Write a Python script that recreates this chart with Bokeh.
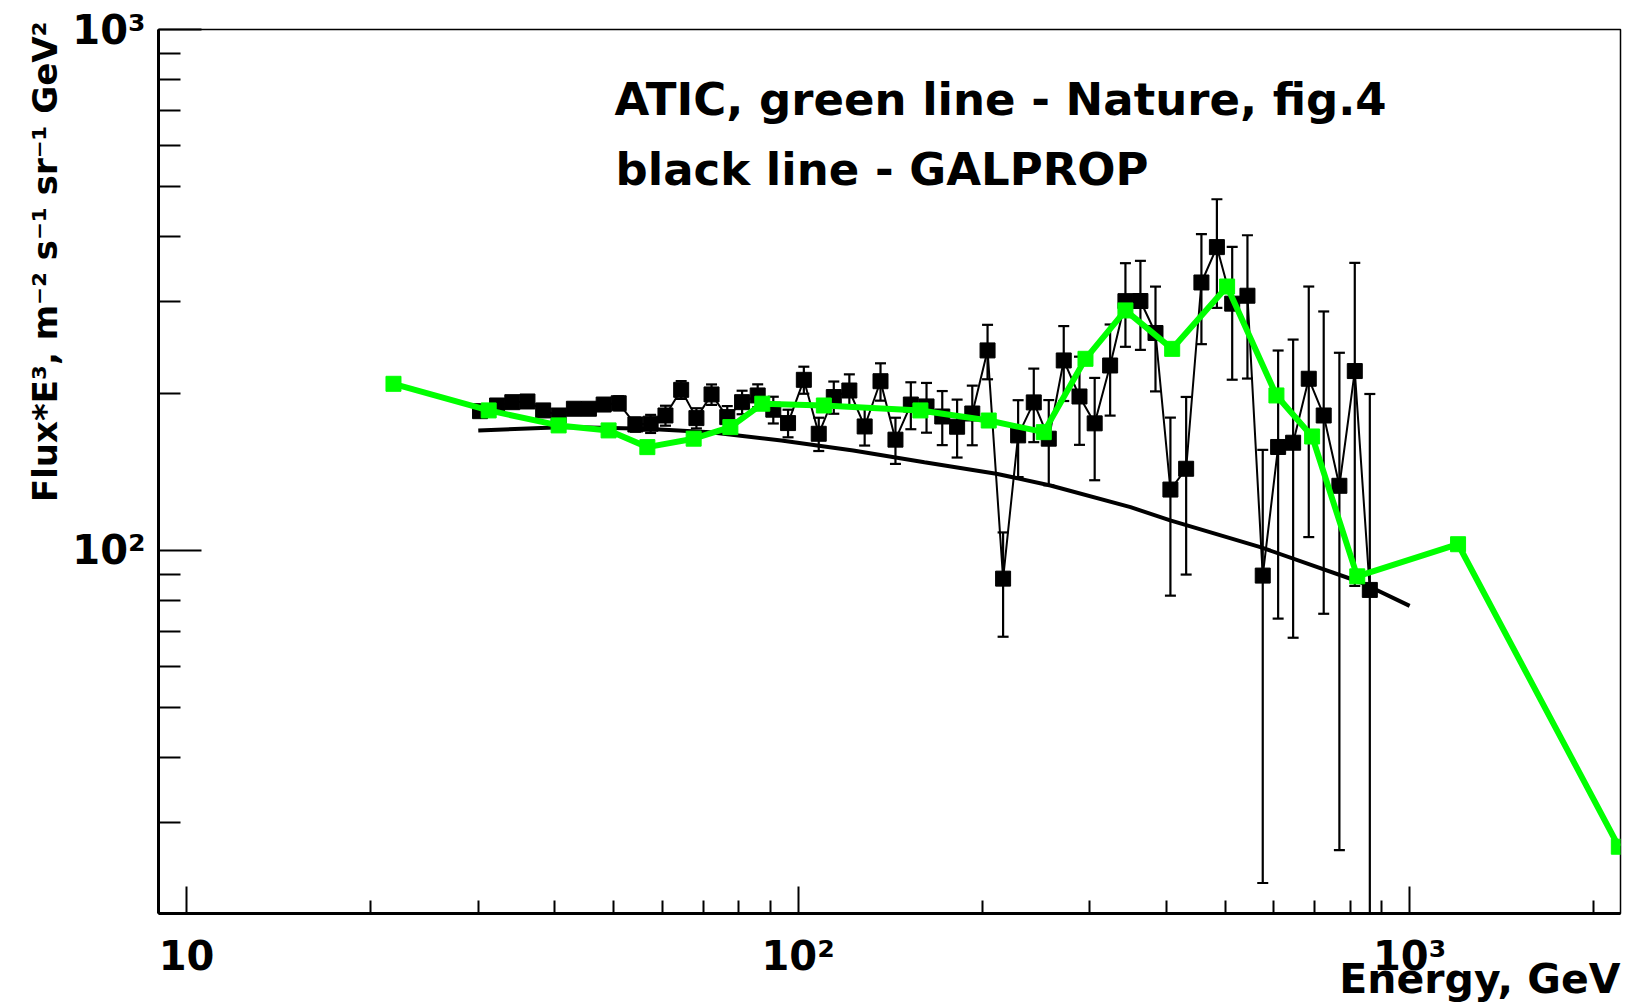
import numpy as np
from bokeh.plotting import figure
from bokeh.models import Label, Title, FixedTicker, CustomJSTickFormatter
from bokeh.embed import file_html
from bokeh.resources import INLINE

# ATIC electron spectrum, Flux*E^3 (black squares with error bars)
atic_energy = [30.2, 32.2, 34.1, 36.1, 38.3, 40.6, 43.0, 45.5, 48.1, 50.9,
               54.2, 57.4, 60.7, 64.4, 68.2, 72.2, 76.6, 81.0, 85.9, 91.1,
               96.3, 102.2, 108.1, 114.4, 121.3, 128.5, 136.4, 144.3, 152.9, 162.2,
               172.1, 182.0, 192.7, 204.1, 216.4, 229.0, 242.9, 257.0, 271.9, 288.5,
               305.5, 323.8, 343.0, 362.9, 384.1, 406.3, 431.1, 456.6, 484.0, 512.7,
               543.0, 575.2, 609.5, 644.9, 684.0, 723.6, 767.6, 813.4, 860.8]
atic_flux = [185.1, 189.8, 192.6, 193.2, 185.7, 181.6, 187.1, 187.1, 190.6, 191.7,
             174.5, 175.1, 181.6, 203.4, 179.5, 199.3, 180.3, 192.6, 198.4, 186.3,
             175.6, 212.6, 167.5, 197.0, 202.8, 173.0, 211.3, 163.2, 190.6, 189.0,
             180.8, 172.8, 183.2, 242.1, 88.3, 166.3, 192.4, 163.9, 231.6, 197.5,
             175.4, 226.5, 301.0, 301.2, 261.5, 130.9, 143.5, 326.9, 382.2, 297.7,
             308.3, 89.5, 158.0, 161.0, 213.6, 181.6, 133.1, 221.0, 84.0]
atic_err = [3.0, 3.0, 3.5, 3.5, 4.0, 4.0, 4.5, 4.5, 5.0, 6.0,
            5.5, 7.0, 8.0, 8.0, 8.0, 9.0, 9.0, 10.0, 10.0, 11.0,
            10.7, 12.7, 12.3, 14.0, 15.0, 14.0, 17.4, 16.6, 19.7, 20.7,
            21.5, 22.0, 24.0, 29.0, 20.0, 28.0, 31.0, 30.5, 38.0, 38.0,
            39.0, 45.0, 55.0, 58.5, 59.5, 49.0, 53.6, 78.0, 90.0, 85.0,
            94.5, 66.5, 84.0, 93.0, 107.5, 106.0, 106.5, 135.5, 115.7]

# Nature, fig.4 curve (green)
nature_energy = [21.8, 31.2, 40.6, 49.0, 56.7, 67.5, 77.5, 87.4, 110.2, 158.5,
                 205.0, 252.2, 295.1, 343.0, 409.0, 503.0, 605.6, 692.7, 821.0,
                 1200.0, 2198.0]
nature_flux = [208.9, 185.7, 173.8, 170.0, 157.9, 163.9, 172.5, 191.3, 189.8, 185.7,
               177.6, 168.7, 233.3, 288.9, 243.8, 321.1, 198.4, 165.5, 89.2,
               102.8, 27.0]

# GALPROP model (black line)
galprop_energy = [30.0, 42.0, 56.4, 71.9, 93.9, 123.1, 160.9, 210.9, 258.6,
                  349.6, 406.0, 570.0, 831.0, 1000.0]
galprop_flux = [170.0, 172.5, 171.2, 168.7, 162.6, 155.6, 147.7, 140.4, 133.3,
                121.1, 114.2, 101.5, 86.9, 78.3]

# axis ticks
x_major = [10, 100, 1000]
x_minor = [20, 30, 40, 50, 60, 70, 80, 90, 200, 300, 400, 500, 600, 700, 800, 900, 2000]
y_major = [100, 1000]
y_minor = [30, 40, 50, 60, 70, 80, 90, 200, 300, 400, 500, 600, 700, 800, 900]

X_MIN, X_MAX = 9.0, 2212.0
Y_MIN, Y_MAX = 20.1, 1000.0

FONT = "DejaVu Sans"

p = figure(width=1627, height=1006,
           x_axis_type="log", y_axis_type="log",
           x_range=(X_MIN, X_MAX), y_range=(Y_MIN, Y_MAX),
           output_backend="svg", toolbar_location=None,
           min_border_left=158, min_border_right=7,
           min_border_top=29, min_border_bottom=93)

p.background_fill_color = "white"
p.border_fill_color = "white"
p.outline_line_color = "black"
p.outline_line_width = 1.5
p.grid.visible = False

power_labels = CustomJSTickFormatter(code="""
const e = Math.round(Math.log10(tick));
const sup = {2: '\u00b2', 3: '\u00b3'};
return e === 1 ? '10' : '10' + (sup[e] || e);
""")

for ax in (p.xaxis[0], p.yaxis[0]):
    ax.axis_line_width = 3
    ax.major_tick_out = 0
    ax.minor_tick_out = 0
    ax.major_tick_line_width = 2
    ax.minor_tick_line_width = 2
    ax.major_label_text_font = FONT
    ax.major_label_text_font_style = "bold"
    ax.major_label_text_font_size = "40px"
    ax.major_label_text_color = "black"
    ax.formatter = power_labels

p.xaxis.ticker = FixedTicker(ticks=x_major, minor_ticks=x_minor)
p.yaxis.ticker = FixedTicker(ticks=y_major, minor_ticks=y_minor)
p.xaxis.major_tick_in = 27
p.xaxis.minor_tick_in = 13
p.yaxis.major_tick_in = 43
p.yaxis.minor_tick_in = 22
p.xaxis.major_label_standoff = 19
p.yaxis.major_label_standoff = 13

# model curve
p.line(galprop_energy, galprop_flux, line_width=4, color="black")

# data with symmetric error bars
flux = np.array(atic_flux)
err = np.array(atic_err)
upper = flux + err
lower = np.maximum(flux - err, 1.0)
p.segment(x0=atic_energy, y0=lower, x1=atic_energy, y1=upper, line_width=2.2, color="black")
p.scatter(atic_energy, upper, marker="dash", size=11, line_width=2.2, color="black")
p.scatter(atic_energy, lower, marker="dash", size=11, line_width=2.2, color="black")
p.line(atic_energy, atic_flux, line_width=2, color="black")
p.scatter(atic_energy, atic_flux, marker="square", size=15, color="black")

# Nature fig.4 curve
p.line(nature_energy, nature_flux, line_width=6, color="#00ff00")
p.scatter(nature_energy, nature_flux, marker="square", size=15, color="#00ff00")

text_style = dict(text_font=FONT, text_font_style="bold", text_color="black")

p.add_layout(Label(x=50.1, y=735.0, text="ATIC, green line - Nature, fig.4",
                   text_font_size="45px", text_baseline="alphabetic", **text_style))
p.add_layout(Label(x=50.3, y=538.0, text="black line - GALPROP",
                   text_font_size="45px", text_baseline="alphabetic", **text_style))

# axis titles, flush with the far ends of the axes
p.add_layout(Title(text="Energy, GeV", align="right", vertical_align="top",
                   standoff=-54, offset=0, text_font_size="41px", **text_style),
             "below")
p.add_layout(Title(text="Flux*E\u00b3, m\u207b\u00b2 s\u207b\u00b9 sr\u207b\u00b9 GeV\u00b2",
                   align="right", vertical_align="bottom", standoff=10, offset=-8,
                   text_font_size="34px", **text_style),
             "left")

open("out.html", "w").write(file_html(p, INLINE))
